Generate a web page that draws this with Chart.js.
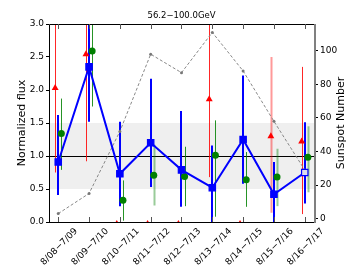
<!DOCTYPE html>
<html>
<head>
<meta charset="utf-8">
<script src="https://cdn.jsdelivr.net/npm/chart.js@4.4.1/dist/chart.umd.min.js"></script>
<style>
  html, body { margin: 0; padding: 0; background: #fff; }
  #chart { display: block; }
</style>
</head>
<body>
<canvas id="chart" width="353" height="265"></canvas>
<script>
// ---- data ----
const categories = ['8/08\u22127/09', '8/09\u22127/10', '8/10\u22127/11', '8/11\u22127/12', '8/12\u22127/13',
                    '8/13\u22127/14', '8/14\u22127/15', '8/15\u22127/16', '8/16\u22127/17'];

const blueFlux = [0.91, 2.35, 0.73, 1.20, 0.79, 0.52, 1.25, 0.42, 0.75];
const blueLo   = [0.41, 1.52, 0.24, 0.53, 0.23, -0.1, 0.58, -0.1, 0.28];
const blueHi   = [1.62, 3.3,  1.52, 2.17, 1.68, 1.16, 2.22, 0.91, 1.51];

const redFlux  = [2.03, 2.54, -0.03, -0.03, -0.03, 1.86, -0.03, 1.30, 1.22];
const redLo    = [0.75, 0.92, null, null, null, 0.68, null, 0.14, 0.12];
const redHi    = [3.3,  3.3,  null, null, null, 3.3,  null, 2.50, 2.35];

const greenFlux = [1.34, 2.59, 0.33, 0.71, 0.69, 1.01, 0.64, 0.68, 0.98];
const greenLo   = [0.79, 1.75, 0.02, 0.25, 0.24, 0.08, 0.23, 0.24, 0.45];
const greenHi   = [1.87, 3.3,  0.63, 1.17, 1.14, 1.54, 1.06, 1.11, 1.45];

const sunspot = [3, 15, 52, 98, 87, 111, 88, 58, 29];

const fluxTicks = [0, 0.5, 1.0, 1.5, 2.0, 2.5, 3.0];
const sunspotTicks = [0, 20, 40, 60, 80, 100];

const titleText = '56.2\u2212100.0GeV';
const FONT = '"DejaVu Sans", sans-serif';

function pts(vals, off) {
    return vals.map((v, i) => ({ x: i + off, y: v }));
}

// band, reference line, error bars, frame, axis titles
const decor = {
    id: 'decor',
    beforeDatasetsDraw(chart) {
        const { ctx, chartArea: a, scales } = chart;
        const x = scales.x, y = scales.y;
        ctx.save();
        ctx.beginPath();
        ctx.rect(a.left, a.top, a.right - a.left, a.bottom - a.top);
        ctx.clip();

        ctx.fillStyle = '#efefef';
        ctx.fillRect(a.left, y.getPixelForValue(1.5), a.right - a.left,
                     y.getPixelForValue(0.5) - y.getPixelForValue(1.5));

        ctx.strokeStyle = '#000';
        ctx.lineWidth = 1;
        ctx.beginPath();
        ctx.moveTo(a.left, Math.round(y.getPixelForValue(1)) + 0.5);
        ctx.lineTo(a.right, Math.round(y.getPixelForValue(1)) + 0.5);
        ctx.stroke();

        const bars = [
            { lo: redLo, hi: redHi, off: -0.1, color: 'rgba(255,0,0,0.85)', w: 1, faint: [7] },
            { lo: greenLo, hi: greenHi, off: 0.1, color: 'rgba(0,128,0,0.85)', w: 1, faint: [3, 7, 8] },
            { lo: blueLo, hi: blueHi, off: 0, color: '#0000ff', w: 2, faint: [] }
        ];
        bars.forEach(b => {
            b.lo.forEach((lo, i) => {
                if (lo === null) return;
                const px = Math.round(x.getPixelForValue(i + b.off)) + (b.w === 1 ? 0.5 : 0);
                ctx.strokeStyle = b.faint.includes(i) ? b.color.replace('0.85', '0.4') : b.color;
                if (b.faint.includes(i) && b.w === 1) ctx.lineWidth = 2; else ctx.lineWidth = b.w;
                ctx.beginPath();
                ctx.moveTo(px, y.getPixelForValue(lo));
                ctx.lineTo(px, y.getPixelForValue(b.hi[i]));
                ctx.stroke();
            });
        });
        ctx.restore();
    },
    afterDraw(chart) {
        const { ctx, chartArea: a, scales } = chart;
        ctx.save();
        // frame
        ctx.strokeStyle = '#000';
        ctx.lineWidth = 1;
        ctx.beginPath();
        ctx.moveTo(a.left + 0.5, a.bottom + 0.5);
        ctx.lineTo(a.left + 0.5, a.top + 0.5);
        ctx.lineTo(a.right, a.top + 0.5);
        ctx.moveTo(a.left, a.bottom + 0.5);
        ctx.lineTo(a.right, a.bottom + 0.5);
        ctx.stroke();
        ctx.strokeStyle = '#808080';
        ctx.lineWidth = 2;
        ctx.beginPath();
        ctx.moveTo(a.right + 1, a.top);
        ctx.lineTo(a.right + 1, a.bottom + 1);
        ctx.stroke();

        // inner x ticks, top and bottom
        ctx.strokeStyle = '#555';
        ctx.lineWidth = 1;
        categories.forEach((c, i) => {
            const px = Math.round(scales.x.getPixelForValue(i)) + 0.5;
            ctx.beginPath();
            ctx.moveTo(px, a.top);
            ctx.lineTo(px, a.top + 5);
            ctx.moveTo(px, a.bottom);
            ctx.lineTo(px, a.bottom - 5);
            ctx.stroke();
        });

        // titles
        ctx.fillStyle = '#000';
        ctx.textAlign = 'center';
        ctx.textBaseline = 'middle';
        ctx.font = '8.5px ' + FONT;
        ctx.fillText(titleText, (a.left + a.right) / 2, 16);

        ctx.font = '11px ' + FONT;
        const cy = (a.top + a.bottom) / 2;
        [[22, 'Normalized flux'], [341, 'Sunspot Number']].forEach(([tx, t]) => {
            ctx.save();
            ctx.translate(tx, cy);
            ctx.rotate(-Math.PI / 2);
            ctx.fillText(t, 0, 0);
            ctx.restore();
        });
        ctx.restore();
    }
};

const ctx = document.getElementById('chart').getContext('2d');
const myChart = new Chart(ctx, {
    type: 'scatter',
    data: {
        datasets: [{
            label: 'sunspot',
            data: pts(sunspot, 0),
            yAxisID: 'y2',
            showLine: true,
            borderColor: '#888',
            borderWidth: 1,
            borderDash: [3, 2],
            pointRadius: 1.5,
            pointBackgroundColor: '#777',
            pointBorderWidth: 0,
            order: 4
        }, {
            label: 'red',
            data: pts(redFlux, -0.1),
            yAxisID: 'y',
            pointStyle: 'triangle',
            pointRadius: 4,
            pointBackgroundColor: '#ff0000',
            pointBorderColor: '#ff0000',
            pointBorderWidth: 0,
            order: 3
        }, {
            label: 'green',
            data: pts(greenFlux, 0.1),
            yAxisID: 'y',
            pointStyle: 'circle',
            pointRadius: 3.5,
            pointBackgroundColor: '#008000',
            pointBorderWidth: 0,
            order: 2
        }, {
            label: 'blue',
            data: pts(blueFlux, 0),
            yAxisID: 'y',
            showLine: true,
            borderColor: '#0000ff',
            borderWidth: 2,
            pointStyle: 'rect',
            pointRadius: 4.5,
            pointBackgroundColor: blueFlux.map((v, i) => i === blueFlux.length - 1 ? '#dde' : '#0000ff'),
            pointBorderColor: '#0000ff',
            pointBorderWidth: 1.2,
            order: 1
        }]
    },
    options: {
        responsive: false,
        animation: false,
        devicePixelRatio: 1,
        layout: { padding: { top: 24, left: 0, right: 0, bottom: 0 } },
        plugins: {
            legend: { display: false },
            tooltip: { enabled: false },
            title: { display: false }
        },
        scales: {
            x: {
                type: 'linear',
                min: -0.3,
                max: 8.3,
                afterBuildTicks: s => { s.ticks = categories.map((c, i) => ({ value: i })); },
                afterFit: s => { s.height = 43; },
                grid: { display: false, drawTicks: false },
                border: { display: false },
                ticks: {
                    autoSkip: false,
                    maxRotation: 45,
                    minRotation: 45,
                    labelOffset: 18,
                    padding: 4,
                    color: '#000',
                    font: { family: FONT, size: 9 },
                    callback: v => categories[v]
                }
            },
            y: {
                position: 'left',
                min: 0,
                max: 3,
                afterBuildTicks: s => { s.ticks = fluxTicks.map(v => ({ value: v })); },
                afterFit: s => { s.width = 49; },
                grid: { drawOnChartArea: false, drawTicks: true, tickLength: 3, color: '#000' },
                border: { display: false },
                ticks: {
                    padding: 2,
                    color: '#000',
                    font: { family: FONT, size: 9 },
                    callback: v => v.toFixed(1)
                }
            },
            y2: {
                position: 'right',
                min: -2,
                max: 116,
                afterBuildTicks: s => { s.ticks = sunspotTicks.map(v => ({ value: v })); },
                afterFit: s => { s.width = 39; },
                grid: { drawOnChartArea: false, drawTicks: true, tickLength: 4, color: '#000' },
                border: { display: false },
                ticks: {
                    padding: 2,
                    color: '#000',
                    font: { family: FONT, size: 9 }
                }
            }
        }
    },
    plugins: [decor]
});
</script>
</body>
</html>
